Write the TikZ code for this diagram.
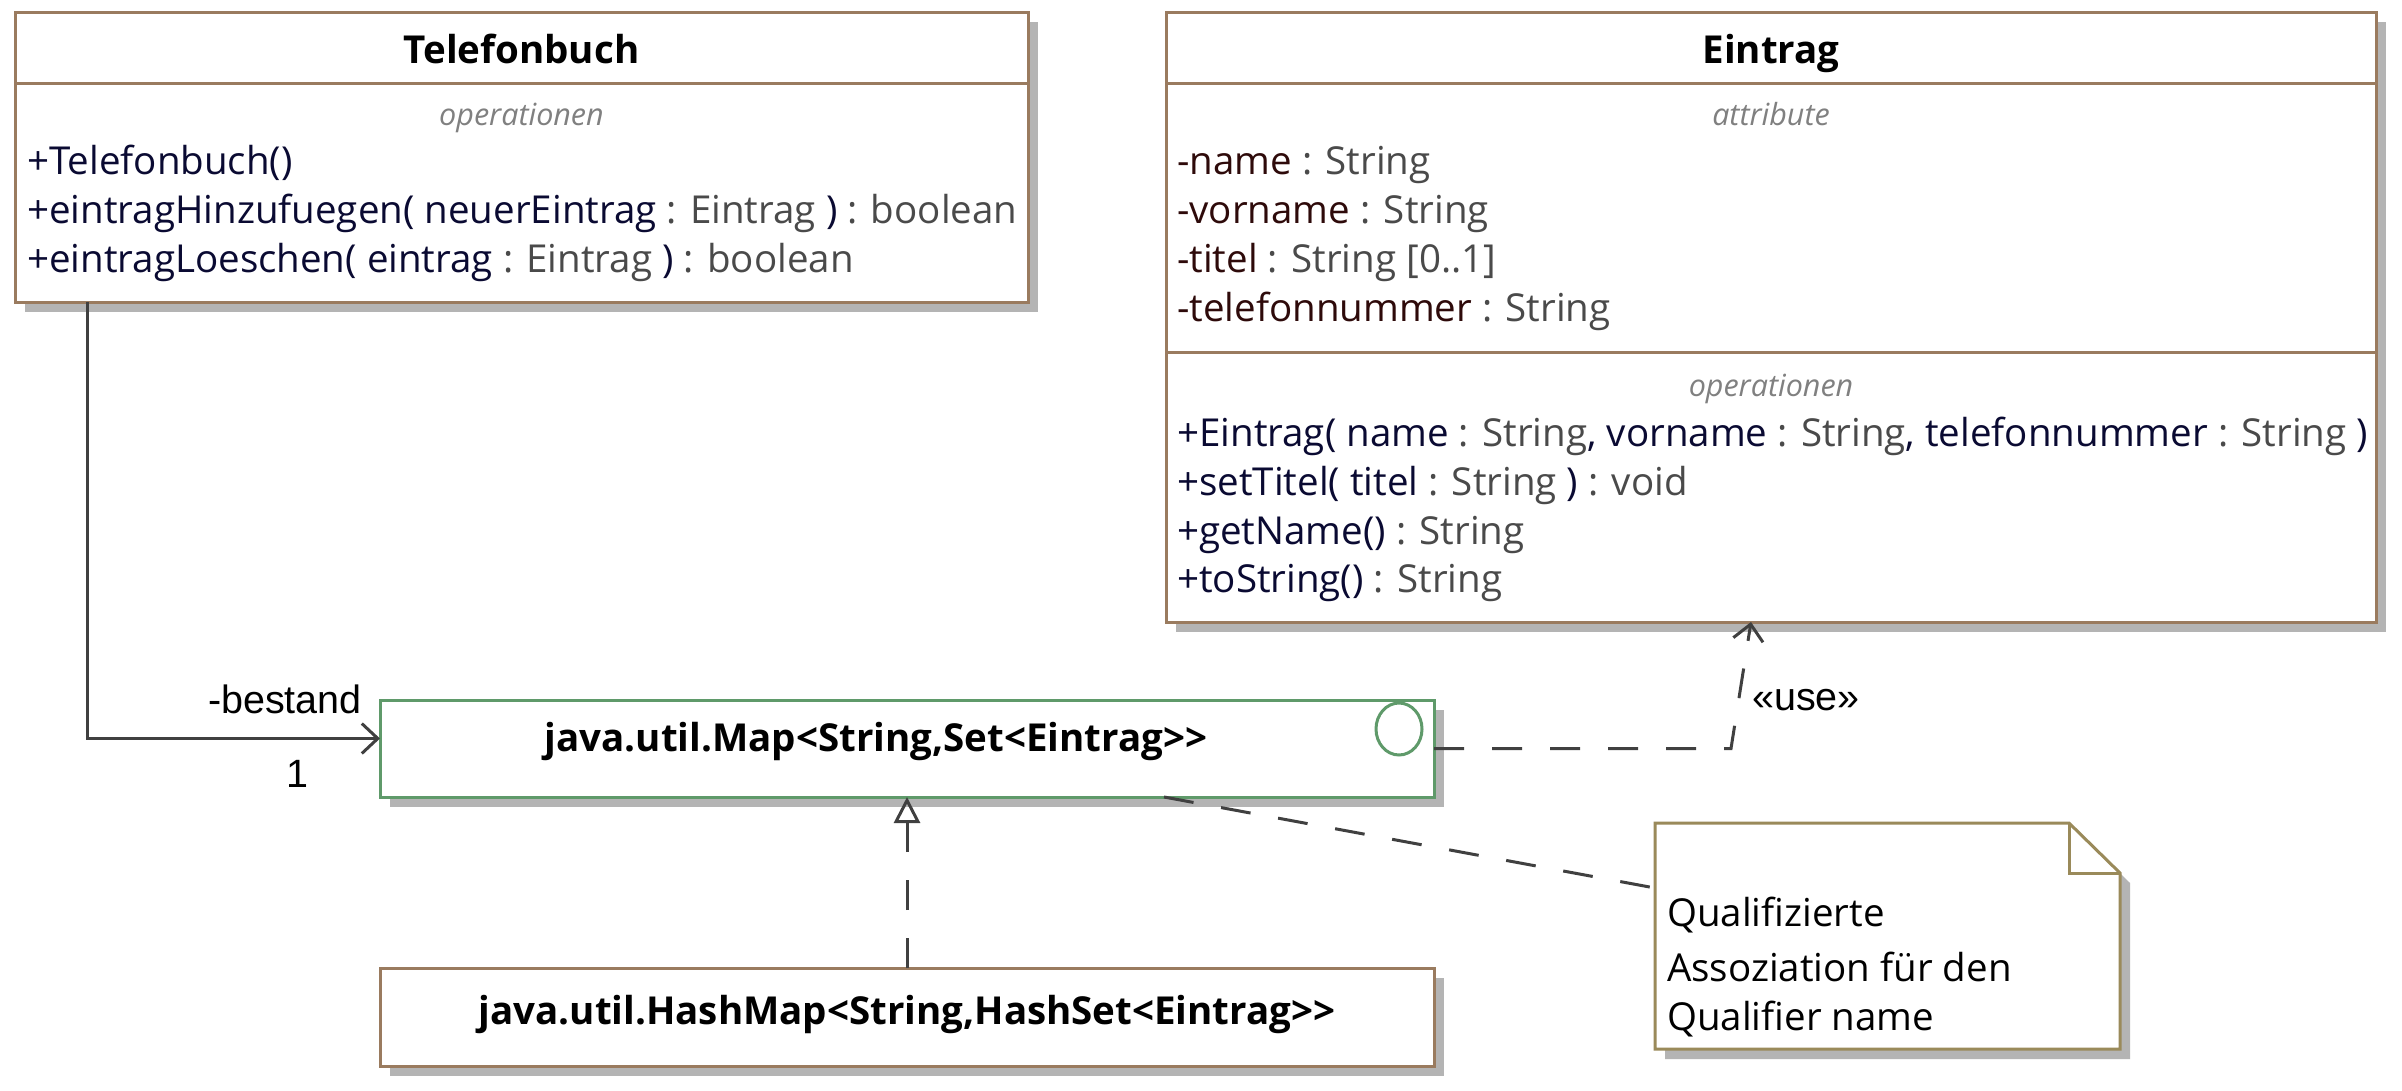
\documentclass[tikz,border=0pt]{standalone}
\usepackage{fontspec}
\setmainfont{Open Sans}
\newfontfamily\lblfont{Liberation Sans}
\usetikzlibrary{arrows.meta,shadows}
\definecolor{border}{HTML}{9A7B5F}
\definecolor{ifborder}{HTML}{5F9A6A}
\definecolor{noteborder}{HTML}{9A8A5A}
\definecolor{shadowc}{HTML}{B4B4B4}
\definecolor{opc}{HTML}{0A0A32}
\definecolor{attc}{HTML}{2E0A0A}
\definecolor{typc}{HTML}{4A4A4A}
\definecolor{secc}{HTML}{808080}
\definecolor{linec}{HTML}{404040}
\newcommand{\cN}[1]{\textcolor{opc}{#1}}
\newcommand{\cA}[1]{\textcolor{attc}{#1}}
\newcommand{\cT}[1]{\textcolor{typc}{#1}}
\begin{document}
\begin{tikzpicture}[x=1pt,y=-1pt,
  box/.style={draw=border, line width=3pt, fill=white, inner sep=0pt, outer sep=0pt,
    drop shadow={shadow xshift=10pt, shadow yshift=-10pt, fill=shadowc, opacity=1}},
  ifbox/.style={box, draw=ifborder},
  divider/.style={draw=border, line width=3pt},
  title/.style={anchor=base, inner sep=0pt, font=\fontsize{38.5}{42}\selectfont\bfseries},
  sect/.style={anchor=base, inner sep=0pt, text=secc, font=\fontsize{30.5}{34}\selectfont\itshape},
  member/.style={anchor=base west, inner sep=0pt, font=\fontsize{38.5}{42}\selectfont},
  lbl/.style={inner sep=0pt, font=\fontsize{39.5}{44}\selectfont\lblfont},
  conn/.style={draw=linec, line width=3pt},
  dep/.style={conn, dash pattern=on 30pt off 28pt},
  openarrow/.style={-{Straight Barb[length=16pt,width=30pt,line width=3pt]}},
  triarrow/.style={-{Triangle[open,length=26pt,width=26pt,line width=3pt]}}
]
\useasboundingbox (0,0) rectangle (2402,1090);
\fill[white] (0,0) rectangle (2402,1090);

% Telefonbuch
\node[box, minimum width=1013pt, minimum height=290pt] (tb) at (521.5,157) {};
\draw[divider] ([yshift=-71pt]tb.north west) -- ([yshift=-71pt]tb.north east);
\node[title] (tbtitle) at (521.5,63) {Telefonbuch};
\node[sect] (tbops) at (521.5,125) {operationen};
\node[member] (tbo1) at (27,174) {\cN{+Telefonbuch()}};
\node[member] (tbo2) at (27,223) {\cN{+eintragHinzufuegen( neuerEintrag} \cT{: Eintrag} \cN{)} \cT{: boolean}};
\node[member] (tbo3) at (27,272) {\cN{+eintragLoeschen( eintrag} \cT{: Eintrag} \cN{)} \cT{: boolean}};

% Eintrag
\node[box, minimum width=1210pt, minimum height=610pt] (ein) at (1771,317) {};
\draw[divider] ([yshift=-71pt]ein.north west) -- ([yshift=-71pt]ein.north east);
\draw[divider] ([yshift=-340pt]ein.north west) -- ([yshift=-340pt]ein.north east);
\node[title] (eintitle) at (1771,63) {Eintrag};
\node[sect] (einattr) at (1771,125) {attribute};
\node[member] (ea1) at (1177,174) {\cA{-name} \cT{: String}};
\node[member] (ea2) at (1177,223) {\cA{-vorname} \cT{: String}};
\node[member] (ea3) at (1177,272) {\cA{-titel} \cT{: String [0..1]}};
\node[member] (ea4) at (1177,321) {\cA{-telefonnummer} \cT{: String}};
\node[sect] (einops) at (1771,396) {operationen};
\node[member] (eo1) at (1177,446) {\cN{+Eintrag( name} \cT{: String}\cN{, vorname} \cT{: String}\cN{, telefonnummer} \cT{: String} \cN{)}};
\node[member] (eo2) at (1177,495) {\cN{+setTitel( titel} \cT{: String} \cN{)} \cT{: void}};
\node[member] (eo3) at (1177,544) {\cN{+getName()} \cT{: String}};
\node[member] (eo4) at (1177,592) {\cN{+toString()} \cT{: String}};

% Map interface
\node[ifbox, minimum width=1054pt, minimum height=97pt] (map) at (907,748.5) {};
\node[title] (maptitle) at (876,751) {java.util.Map<String,Set<Eintrag>{}>};
\draw[draw=ifborder, line width=3pt] (1399,729) ellipse [x radius=23pt, y radius=26pt];

% HashMap
\node[box, minimum width=1054pt, minimum height=98pt] (hm) at (907,1017) {};
\node[title] (hmtitle) at (907,1024) {java.util.HashMap<String,HashSet<Eintrag>{}>};

% Note
\node[inner sep=0pt, outer sep=0pt, minimum width=465pt, minimum height=226pt] (note) at (1887.5,936) {};
\fill[shadowc] ([shift={(10pt,-10pt)}]note.north west) -- ([shift={(-41pt,-10pt)}]note.north east)
  -- ([shift={(10pt,-60pt)}]note.north east) -- ([shift={(10pt,-10pt)}]note.south east)
  -- ([shift={(10pt,-10pt)}]note.south west) -- cycle;
\filldraw[fill=white, draw=noteborder, line width=3pt] (note.north west) -- ([xshift=-51pt]note.north east)
  -- ([yshift=-50pt]note.north east) -- (note.south east) -- (note.south west) -- cycle;
\draw[draw=noteborder, line width=3pt] ([xshift=-51pt]note.north east) -- ([shift={(-51pt,-50pt)}]note.north east)
  -- ([yshift=-50pt]note.north east);
\node[member] (nt1) at (1667,926) {Qualifizierte};
\node[member] (nt2) at (1667,981) {Assoziation für den};
\node[member] (nt3) at (1667,1030) {Qualifier name};

% Connectors
\coordinate (tbstart) at ([xshift=72pt]tb.south west);
\draw[conn, openarrow] (tbstart) |- ([yshift=10pt]map.west);
\node[lbl] (bestand) at (285,699) {-bestand};
\node[lbl] (mult) at (297,774) {1};

\coordinate (usebend) at (1731,748.5);
\draw[dep, openarrow] (map.east) -- (usebend) -- ([xshift=-20pt]ein.south);
\node[lbl] (use) at (1806,700) {«use»};

\draw[dep, triarrow] (hm.north) -- (map.south);

\draw[dep] ([xshift=257pt]map.south) -- ([yshift=-65pt]note.north west);
\end{tikzpicture}
\end{document}
